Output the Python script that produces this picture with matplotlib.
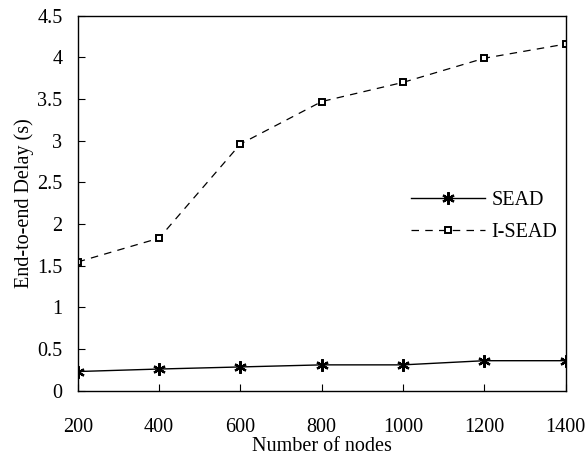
import numpy as np
import matplotlib.pyplot as plt

plt.rcParams['font.family'] = 'Liberation Serif'

nodes = [200, 400, 600, 800, 1000, 1200, 1400]
sead = [0.23, 0.26, 0.285, 0.31, 0.31, 0.36, 0.36]
isead = [1.545, 1.83, 2.96, 3.47, 3.70, 3.99, 4.16]
yticks = [0, 0.5, 1, 1.5, 2, 2.5, 3, 3.5, 4, 4.5]
ylabels = ['0', '0.5', '1', '1.5', '2', '2.5', '3', '3.5', '4', '4.5']

fig = plt.figure(figsize=(5.87, 4.61), dpi=100)
ax = fig.add_axes([0.1324, 0.1525, 0.8313, 0.8134])

ax.plot(nodes, sead, color='black', lw=1.0, marker=(6, 2, 0), ms=9,
        mew=1.6, label='SEAD')
ax.plot(nodes, isead, color='black', lw=0.9, ls=(0, (6, 5)), marker='s',
        ms=5, mfc='white', mec='black', mew=1.4, label='I-SEAD')

ax.set_xlim(200, 1400)
ax.set_ylim(0, 4.5)
ax.set_xticks(nodes)
ax.set_yticks(yticks)
ax.set_yticklabels(ylabels)
ax.tick_params(axis='both', direction='in', length=5, width=0.8,
               labelsize=14.5, top=False, right=False)
ax.tick_params(axis='x', pad=20)
ax.tick_params(axis='y', pad=11)
for s in ax.spines.values():
    s.set_linewidth(1.0)

ax.set_xlabel('Number of nodes', fontsize=14.5, labelpad=0)
ax.set_ylabel('End-to-end Delay (s)', fontsize=14.5, labelpad=2)

ax.legend(loc='center left', bbox_to_anchor=(0.682, 0.465), frameon=False,
          fontsize=14.5, handlelength=3.7, handletextpad=0.33,
          labelspacing=0.65, borderpad=0, borderaxespad=0)

fig.savefig('out.png', dpi=100)
